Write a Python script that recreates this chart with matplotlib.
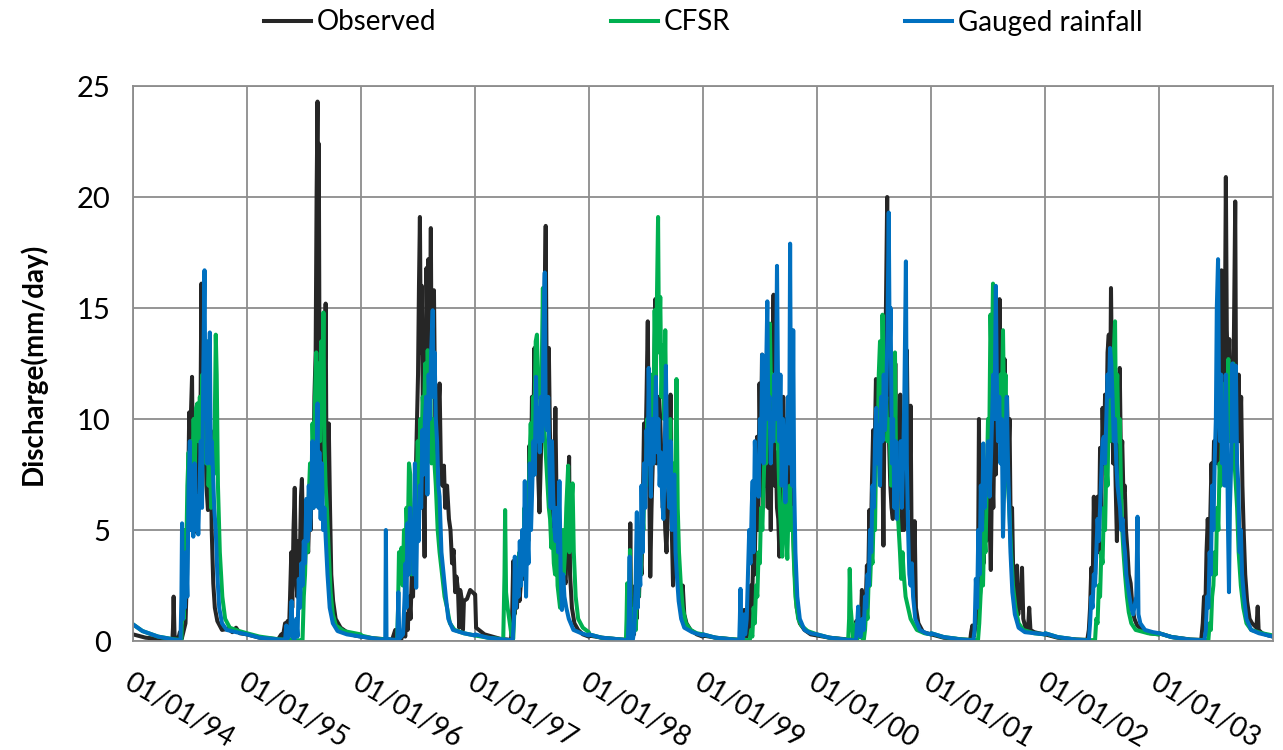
import matplotlib.pyplot as plt
import matplotlib.dates as mdates
import pandas as pd

years = list(range(1994, 2004))

# daily discharge (mm/day), vertices as (day of year, value), one list per year
obs_pts = [
    [(0,0.30),(40,0.15),(100,0.07),(126,0.05),(128,0.6),(130,2.0),(133,0.2),(145,0.1),(150,0.4),(156,0.1),(168,0.8),(173,3),(177,7),(180,10.3),(183,9.5),(186,10.5),(189,11.9),(192,7),(196,4.9),(200,5.3),(204,8.5),(208,6),(212,9.5),(216,10),(219,16.1),(223,9),(227,8.5),(231,10),(235,7),(240,5.9),(244,8),(248,9.5),(252,5),(257,2.6),(262,1.5),(270,0.9),(285,0.5),(305,0.55),(318,0.4),(330,0.6),(342,0.35),(364,0.3)],
    [(0,0.3),(40,0.15),(100,0.08),(110,0.3),(114,0.1),(122,0.8),(126,0.3),(130,0.9),(134,0.2),(138,2),(142,4),(145,1.5),(149,5),(153,6.9),(157,3),(161,2),(165,4.5),(169,3.5),(173,6.5),(176,7.3),(180,4.5),(184,6),(188,4.5),(192,5.5),(196,4),(200,6),(204,5),(208,8),(212,6),(216,11),(220,13),(223,20),(226,24.3),(228,15),(230,22.4),(233,10),(236,7),(240,6),(244,8),(248,10),(252,15.2),(255,7),(258,6.5),(262,9.8),(266,6),(270,3),(276,1.8),(284,1.0),(300,0.6),(320,0.4),(345,0.25),(364,0.2)],
    [(0,0.2),(40,0.12),(100,0.06),(110,0.5),(113,0.1),(130,0.1),(138,0.6),(142,0.2),(146,1.2),(150,0.5),(155,2),(159,1),(163,3),(167,2),(171,4.5),(175,7),(179,9.5),(183,12),(186,16),(189,19.1),(192,13),(195,16),(198,11),(201,7),(204,3.8),(207,11),(210,16.8),(213,14),(216,17.2),(220,12),(224,18.6),(227,11),(231,12),(234,15.8),(238,10),(242,8),(247,10),(252,11.6),(256,8),(261,7),(266,7.9),(270,6),(276,7.0),(282,5.5),(287,5),(292,3.5),(297,4.1),(302,2.2),(306,2.9),(311,2.3),(315,0.6),(318,2.3),(323,1.9),(327,0.5),(330,1.8),(340,1.9),(350,2.3),(365,2.1)],
    [(0,2.1),(3,0.6),(30,0.3),(80,0.1),(115,0.05),(119,1.5),(122,3.6),(126,1.2),(130,2.5),(134,1.5),(138,3),(142,1.8),(146,2.5),(150,4),(154,2.8),(158,5),(162,3),(166,6.5),(170,4.5),(174,8.8),(178,6),(182,11),(186,9),(190,13.2),(194,9),(198,10),(202,7.5),(206,5.8),(210,8),(214,10),(218,12),(222,15),(226,18.7),(229,12),(232,10),(236,13.2),(240,9),(244,4.6),(248,8),(252,6),(257,10.5),(261,6),(265,3),(270,2.4),(275,3),(280,2.5),(285,3),(290,2.6),(295,6),(301,8.3),(304,3),(310,1.5),(318,0.8),(330,0.5),(345,0.3),(364,0.2)],
    [(0,0.25),(40,0.15),(100,0.07),(128,0.05),(130,2),(132,5.3),(135,0.5),(140,1),(144,0.3),(148,2.5),(152,1),(156,3),(160,2),(164,4),(168,3),(172,6),(176,9.8),(180,8),(184,11),(188,14.4),(192,8),(196,2.9),(200,6),(204,8),(208,11),(212,15.4),(216,8),(220,9),(224,11),(228,10),(232,8),(236,6),(240,7),(244,5),(248,4),(252,6),(257,8),(261,11.1),(265,5),(269,2.5),(273,4),(277,5.5),(281,3.5),(285,4),(289,2),(294,1.5),(300,2.5),(305,1.2),(312,0.8),(325,0.5),(345,0.3),(364,0.2)],
    [(0,0.25),(40,0.15),(100,0.07),(126,0.05),(129,0.8),(132,1.4),(135,0.3),(140,0.2),(145,0.8),(149,0.3),(153,2.5),(157,1.5),(161,4),(165,3),(169,6),(173,9.2),(177,5),(181,11.6),(185,8),(189,12.9),(193,6),(197,9),(201,7),(205,9),(209,6),(213,9.5),(217,5),(221,11),(226,15.6),(229,7),(233,8.5),(237,6),(241,5.5),(245,3.8),(249,9),(253,7),(257,11),(261,8),(265,6),(269,10),(273,7),(277,8),(281,6),(285,10.1),(289,5),(294,3),(300,1.5),(310,0.8),(325,0.5),(345,0.3),(364,0.25)],
    [(0,0.25),(40,0.15),(100,0.07),(114,0.05),(117,0.6),(121,0.2),(126,0.9),(131,0.3),(136,1),(140,0.6),(144,2.3),(148,1.2),(152,2),(156,1.5),(160,3.4),(164,2.5),(168,5.9),(172,4),(176,7),(180,9.5),(184,8),(189,11.8),(193,10),(197,8),(201,9),(205,7),(209,9),(213,4.3),(217,12),(221,15),(225,20.0),(228,14),(231,9),(235,7),(239,6),(243,5.5),(247,8),(251,12.5),(255,8),(259,10),(263,7),(267,11.1),(271,5),(275,6),(279,5),(284,9),(288,13.1),(292,8),(296,6),(300,10.6),(304,3),(308,2.5),(313,5.4),(317,1.5),(325,0.8),(340,0.4),(365,0.3)],
    [(0,0.3),(40,0.15),(100,0.07),(125,0.05),(128,0.4),(132,0.7),(136,0.2),(140,0.5),(145,1.5),(149,0.8),(153,10.0),(156,2),(160,3),(164,5),(168,3.5),(172,6),(176,4.5),(180,7),(184,9),(188,5),(191,3.2),(195,8),(199,6),(203,10),(207,7.5),(211,11.5),(215,9),(219,15.4),(223,11),(227,13),(231,8),(235,12.7),(239,10),(243,11),(247,8),(251,10),(255,4.6),(259,6),(263,2.9),(267,2),(271,1.5),(275,3.4),(279,1.2),(283,2.5),(287,1.5),(291,3.3),(295,1),(302,0.6),(310,0.5),(314,1.5),(318,0.5),(330,0.4),(345,0.35),(364,0.3)],
    [(0,0.3),(40,0.15),(100,0.07),(135,0.05),(140,0.5),(144,1.5),(148,3.3),(152,2),(156,6.5),(160,3),(164,5.5),(168,6.5),(172,4),(176,8.7),(180,6),(184,10.5),(188,8),(192,11.1),(196,9),(200,13),(204,13.8),(208,10),(211,15.9),(214,12),(218,8),(222,10),(226,7),(230,4.5),(234,8),(239,12.3),(243,8),(247,9),(251,6.5),(255,7),(259,5),(264,4),(268,3),(274,2.6),(280,1.5),(286,1),(295,0.7),(310,0.5),(335,0.35),(364,0.3)],
    [(0,0.35),(40,0.18),(100,0.07),(135,0.05),(140,0.8),(144,2),(148,1.2),(152,4),(156,5.5),(160,4),(164,5.5),(168,8),(172,6),(176,9),(180,8),(184,10),(188,8),(192,12),(196,14),(200,16.7),(203,11),(207,14),(210,12),(214,20.9),(217,14.0),(221,12),(225,13.6),(229,10),(233,12.5),(237,11),(240,14),(244,19.8),(247,10),(251,9),(255,12),(259,9),(263,11),(267,7),(271,5),(276,3),(282,1.8),(290,1),(298,0.8),(312,0.6),(316,1.55),(319,0.5),(330,0.35),(350,0.25),(365,0.2)],
]

cfsr_pts = [
    [(0,0.75),(30,0.45),(80,0.2),(130,0.08),(155,0.05),(158,2),(162,1),(166,5),(170,3.5),(174,7),(178,8.5),(182,6),(186,9),(190,7.5),(194,10),(198,8),(202,10.5),(206,10.7),(210,9),(214,11),(218,8),(222,12),(226,9),(230,11),(234,8),(238,13.5),(242,7),(246,9),(250,6),(254,8),(258,7.5),(262,10),(265,13.8),(268,12),(272,7),(278,4),(286,2),(295,1),(310,0.6),(340,0.45),(364,0.35)],
    [(0,0.35),(40,0.2),(100,0.08),(170,0.03),(178,0.05),(182,2),(186,3),(190,5),(194,4),(198,6.5),(202,8),(206,6.5),(210,9.8),(214,8),(218,11),(222,13),(226,10),(230,12.5),(234,9),(238,13.5),(242,11),(245,14.8),(248,9),(252,7),(256,6),(262,4),(268,2.2),(275,1.2),(285,0.7),(310,0.45),(364,0.3)],
    [(0,0.25),(40,0.12),(100,0.05),(116,0.05),(119,1.5),(122,4),(126,3.5),(130,4.2),(134,2.5),(138,5),(142,3),(146,6),(150,4.5),(154,8),(158,7.5),(162,3),(166,5.5),(170,4.5),(174,7),(178,6),(182,9),(186,7),(190,10),(194,8.5),(198,11),(202,10),(206,12.5),(210,9),(214,13.1),(218,10),(222,12),(226,8),(230,10),(234,8.4),(240,7),(246,5),(252,4),(260,3),(268,2),(276,1.5),(285,0.8),(300,0.5),(330,0.35),(365,0.25)],
    [(0,0.25),(40,0.15),(90,0.08),(94,3),(96,5.9),(99,2.2),(104,1.5),(110,0.9),(116,0.3),(122,0.1),(126,1.5),(130,3.5),(134,2),(138,3),(142,4),(146,2.5),(150,4.5),(154,3),(158,6),(162,4),(166,6.5),(170,5.5),(174,8),(178,9.8),(182,8),(186,11),(190,10),(194,13.5),(198,13.8),(202,11),(206,12),(210,10),(214,13),(217,15.9),(220,10),(224,9),(228,8),(232,7),(236,6),(240,5.5),(244,4.2),(248,5),(252,3.5),(256,3),(260,5),(264,2.5),(268,2),(272,1.5),(276,4),(280,5),(284,3),(288,4),(292,6),(298,7.9),(302,4),(306,5.5),(312,7.1),(316,4),(322,2),(330,1),(345,0.6),(364,0.4)],
    [(0,0.3),(40,0.15),(100,0.07),(118,0.05),(120,1),(122,2.6),(125,0.3),(128,2),(131,4.1),(134,0.5),(140,0.2),(146,1.5),(150,0.5),(154,3),(158,2),(162,4.5),(166,3),(170,6),(174,5),(178,8),(182,7),(186,10),(190,8.5),(194,11),(198,9),(202,12),(206,10),(210,14.9),(214,12),(218,16),(221,19.1),(224,13),(228,15.5),(232,11),(236,13.3),(240,10),(244,14.0),(248,9),(252,8),(256,7),(260,10),(264,6),(268,8),(272,5.5),(276,7),(280,11.8),(284,6),(288,4),(294,2.5),(300,1.5),(310,0.8),(325,0.5),(345,0.35),(364,0.3)],
    [(0,0.3),(40,0.15),(100,0.07),(140,0.04),(150,0.05),(154,0.5),(158,0.2),(162,1.5),(166,0.8),(170,2.5),(174,2),(178,4),(182,3.5),(186,6),(190,5),(194,7),(198,9),(202,8),(206,11),(210,10),(214,14.3),(218,11),(222,12),(226,10),(230,12),(234,9),(238,10),(242,8),(246,6),(250,5),(254,3.8),(258,6),(262,8),(266,5),(270,3.7),(274,6),(278,7),(282,5),(286,6),(290,4),(296,2),(305,1),(315,0.7),(335,0.45),(364,0.3)],
    [(0,0.3),(40,0.15),(100,0.05),(103,1),(105,3.25),(108,1.5),(112,0.8),(116,0.1),(122,0.05),(126,0.8),(130,0.1),(136,0.5),(140,0.2),(150,0.05),(154,0.5),(158,1.5),(162,1),(166,3),(170,2.5),(174,4),(178,3.5),(182,6),(186,5),(190,9),(194,8),(198,12),(202,13.5),(206,10),(210,14.7),(214,12),(218,10),(222,11),(226,9),(230,10),(234,9),(238,7),(242,11),(246,8),(250,13),(254,7),(258,6),(262,5),(266,4),(270,2.8),(274,4),(278,3),(284,2),(292,1.5),(300,1),(320,0.5),(345,0.35),(365,0.3)],
    [(0,0.35),(40,0.18),(100,0.07),(140,0.04),(150,0.05),(154,0.8),(158,2),(162,3),(166,2.5),(170,5),(174,4),(178,7),(182,10),(186,9),(190,14.7),(194,12),(198,16.1),(202,11),(206,12),(210,10),(214,11.5),(218,9),(222,12),(226,10),(230,14.0),(234,10),(238,12),(242,9),(246,7),(250,6),(256,4),(262,2.5),(270,1.5),(280,0.8),(295,0.5),(330,0.35),(364,0.3)],
    [(0,0.35),(40,0.18),(100,0.06),(150,0.04),(160,0.05),(164,1),(168,0.8),(172,2.5),(176,2),(180,4),(184,3.5),(188,6),(192,5),(196,8),(200,7),(204,11),(208,9),(212,12),(216,10),(220,13),(224,14.4),(227,10),(231,12),(235,9),(239,10),(243,7),(247,5),(251,4),(256,3),(262,2),(268,1.3),(276,0.8),(290,0.5),(330,0.35),(364,0.3)],
    [(0,0.35),(40,0.18),(100,0.06),(150,0.04),(158,0.05),(162,0.8),(166,0.5),(170,2),(174,2.5),(178,4),(182,3),(186,6),(190,5),(194,8),(198,7),(202,10),(206,8),(210,11.6),(214,9),(218,10),(222,12.7),(226,9),(230,11),(234,10),(238,12.5),(242,8),(246,7),(250,6),(255,4),(262,2.5),(270,1.5),(280,0.8),(295,0.5),(330,0.35),(365,0.25)],
]

gauge_pts = [
    [(0,0.75),(30,0.45),(80,0.2),(130,0.07),(152,0.03),(155,2),(157,5.3),(160,1),(163,3),(166,1.5),(170,4),(174,2),(178,7),(182,9),(185,5),(189,7),(193,4.7),(197,8),(201,5),(205,6.5),(209,4.8),(213,7),(217,9),(221,6),(225,12),(229,16.7),(232,10),(235,13.5),(238,8),(242,10),(246,13.9),(249,8),(252,9),(256,7.7),(260,6),(265,5),(270,3),(276,1.5),(285,0.8),(300,0.5),(330,0.4),(364,0.3)],
    [(0,0.3),(40,0.15),(100,0.07),(122,0.05),(126,0.7),(129,0.1),(138,0.3),(143,1.8),(146,0.2),(152,0.05),(158,1),(162,0.2),(166,2.8),(170,1.5),(174,3.5),(178,2.5),(182,4.5),(186,3.5),(190,6.4),(194,4.5),(198,7),(202,5),(206,6.5),(210,9),(214,6),(218,8.5),(222,7),(226,10.7),(229,6),(232,8.5),(236,5.5),(240,8),(244,5),(248,6),(252,4.7),(258,3),(265,1.5),(275,0.8),(290,0.45),(320,0.3),(364,0.2)],
    [(0,0.2),(40,0.12),(78,0.05),(80,5.0),(82,0.1),(100,0.06),(117,0.05),(120,2.2),(123,0.1),(135,0.3),(140,2),(143,3.5),(146,1.5),(149,5.3),(153,3),(157,6.0),(161,4),(165,5),(169,3),(173,8),(177,2.4),(181,6),(185,4.5),(189,7),(193,6),(197,9.5),(201,7.5),(205,10),(209,11),(213,6.6),(217,12),(221,10),(225,13),(230,14.9),(233,11),(236,13),(240,10),(244,9),(248,7),(252,6.5),(258,4),(265,3),(272,2),(280,1),(295,0.5),(330,0.35),(365,0.25)],
    [(0,0.3),(40,0.15),(90,0.07),(120,0.03),(124,1),(127,3.8),(131,1.5),(135,3),(139,2),(143,4.5),(147,2.5),(151,5),(155,3),(159,7.2),(163,2.0),(167,5),(171,3.5),(175,8),(179,5),(183,7),(187,9),(191,7.5),(195,11.9),(199,9),(203,10.5),(207,8.5),(211,11),(215,9),(219,14),(223,16.6),(226,10),(230,9.5),(234,11),(238,8),(242,6),(246,9),(250,6.5),(254,5),(258,4.5),(262,6),(266,4),(270,7.2),(274,3),(278,1.4),(282,3),(286,2),(292,1.5),(300,1),(315,0.5),(340,0.35),(364,0.25)],
    [(0,0.3),(40,0.15),(100,0.07),(124,0.03),(127,1),(130,3.8),(133,0.1),(140,0.05),(145,0.5),(149,2.5),(153,5.8),(156,1.5),(160,3.5),(164,2.5),(168,7),(172,4),(176,8),(180,6),(184,9.5),(188,8),(191,12.3),(194,9),(198,6.5),(202,10),(206,8),(210,9.5),(214,11.9),(218,8.5),(222,10),(226,7),(230,8.5),(234,6.5),(238,5.5),(242,8),(246,12.4),(249,9),(253,7),(257,6),(261,9),(265,5),(269,6),(273,7.5),(277,4),(281,3),(287,1.8),(295,1),(305,0.6),(330,0.4),(364,0.25)],
    [(0,0.3),(40,0.15),(100,0.06),(116,0.03),(118,1),(120,2.35),(123,0.2),(128,0.1),(132,1.2),(135,0.3),(140,1),(144,3),(148,5),(152,3.5),(156,6),(159,7.2),(162,4),(166,9),(170,7),(174,8),(178,6.5),(182,10),(186,9),(190,12.9),(194,8),(198,10),(202,12),(206,15.3),(209,10),(213,11),(217,8),(221,10),(225,9),(229,12),(233,10),(237,16.9),(240,12),(244,9),(248,12),(252,7),(256,10),(260,8),(264,6.25),(268,9),(272,11),(276,8),(279,17.9),(282,9),(286,7),(289,14.0),(292,7),(296,4),(302,2),(310,1),(325,0.5),(345,0.35),(364,0.3)],
    [(0,0.3),(40,0.15),(100,0.05),(125,0.03),(129,0.8),(132,1.55),(135,0.3),(140,0.2),(146,1),(150,0.5),(154,2),(158,1.5),(162,3),(166,2.5),(170,5),(174,4),(178,7),(182,6),(186,9),(190,10.5),(194,8),(198,9.7),(202,7),(206,11),(210,9),(214,12),(218,9.5),(222,11),(226,14),(230,19.3),(233,13),(236,15),(240,8),(244,10),(248,6),(252,9),(256,5.5),(260,8),(264,7),(268,9),(272,6),(276,8),(280,11),(285,17.1),(288,8),(292,5),(296,3),(300,2.5),(304,3.5),(308,2),(315,1),(330,0.5),(350,0.35),(365,0.3)],
    [(0,0.35),(40,0.18),(100,0.06),(135,0.03),(139,0.5),(143,2.8),(147,1.5),(151,5),(155,3),(159,7),(163,5),(167,8.9),(171,6),(175,8),(179,7),(183,9),(187,6.5),(191,8),(195,10),(199,12),(203,10),(207,16.0),(210,12),(214,9),(218,11),(222,8),(226,10),(230,4.7),(234,7),(238,9),(242,11),(246,8),(250,6),(254,4),(260,2.2),(268,1.2),(280,0.6),(300,0.4),(364,0.3)],
    [(0,0.35),(40,0.18),(100,0.06),(140,0.03),(144,0.8),(148,2),(152,1.5),(156,3),(160,2.5),(164,4),(168,5.5),(172,4.5),(176,6),(180,7.5),(184,9),(188,9.2),(192,8),(196,10),(200,12),(204,11),(208,13.2),(212,12.5),(216,11),(220,9),(224,10),(228,8),(232,7),(236,6.5),(240,6),(244,5),(248,5.5),(252,4.5),(256,4),(260,3),(265,2.5),(270,2),(276,1.5),(282,1.2),(292,2),(296,5.6),(299,1.2),(305,0.8),(320,0.5),(345,0.4),(364,0.35)],
    [(0,0.35),(40,0.18),(100,0.06),(145,0.03),(150,0.5),(154,2),(158,1.5),(162,4),(166,3),(170,7),(174,5),(178,8),(182,10),(185,15),(189,17.2),(192,11),(195,9),(199,12),(202,8),(206,10),(210,7),(214,12),(218,9),(221,5),(224,2.2),(227,6),(231,8),(235,12.5),(238,9),(242,11),(246,12.4),(250,8),(254,7),(258,4),(262,5),(266,3),(272,2),(280,1),(295,0.5),(320,0.35),(365,0.2)],
]

labels = ["Observed", "CFSR", "Gauged rainfall"]
colors = ["#262626", "#00B050", "#0070C0"]


def to_series(pts):
    t, q = [], []
    for yr, seg in zip(years, pts):
        start = pd.Timestamp(yr, 1, 1)
        for d, v in seg:
            t.append(start + pd.Timedelta(days=d))
            q.append(v)
    return t, q


plt.rcParams['font.family'] = ['Lato', 'DejaVu Sans']

fig = plt.figure(figsize=(12.83, 7.5), dpi=100)
ax = fig.add_axes([0.1037, 0.1453, 0.8885, 0.74])

for pts, lab, c in zip([obs_pts, cfsr_pts, gauge_pts], labels, colors):
    t, q = to_series(pts)
    ax.plot(t, q, color=c, lw=2.9, label=lab)

ax.set_xlim(pd.Timestamp(1994, 1, 1), pd.Timestamp(2004, 1, 1))
ax.set_ylim(0, 25)
ax.set_yticks([0, 5, 10, 15, 20, 25])
ax.xaxis.set_major_locator(mdates.YearLocator())
ax.xaxis.set_major_formatter(mdates.DateFormatter('%d/%m/%y'))
xt = ax.get_xticks()
ax.set_xticks(xt[:-1])

ax.grid(True, color='#8c8c8c', lw=1.3)
ax.set_axisbelow(True)
for s in ax.spines.values():
    s.set_color('#8c8c8c')
    s.set_linewidth(1.3)

ax.tick_params(axis='y', length=0, pad=16, labelsize=21)
ax.tick_params(axis='x', length=0, pad=20, labelsize=20)
for lbl in ax.get_xticklabels():
    lbl.set_rotation(-30)
    lbl.set_ha('left')
    lbl.set_va('top')
    lbl.set_rotation_mode('anchor')

ax.set_ylabel("Discharge(mm/day)", fontsize=20, fontweight='bold', labelpad=22)

fig.legend(loc='center', bbox_to_anchor=(0.548, 0.97), ncol=3, frameon=False,
           fontsize=20, handlelength=1.7, handletextpad=0.2, columnspacing=6.3)

fig.savefig('out.png', dpi=100)
